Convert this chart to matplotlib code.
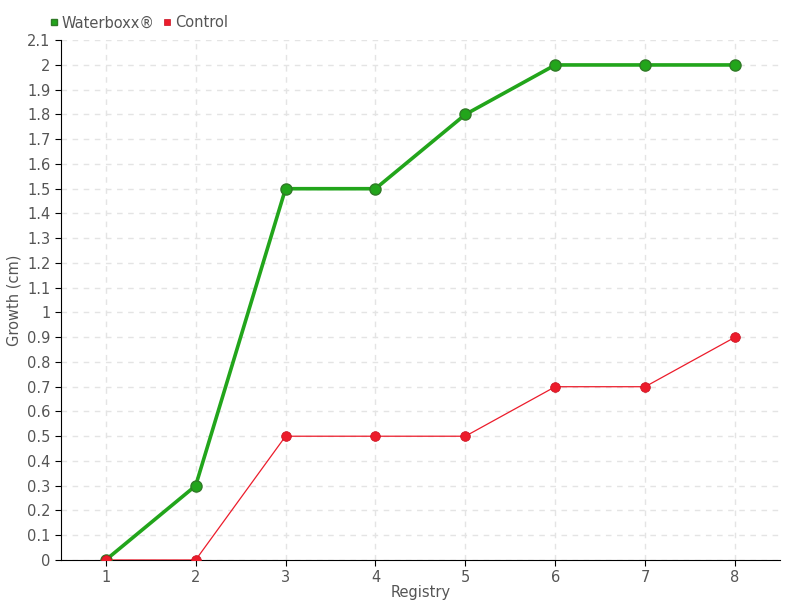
import matplotlib.pyplot as plt
from matplotlib import font_manager

registry = [1, 2, 3, 4, 5, 6, 7, 8]
waterboxx = [0, 0.3, 1.5, 1.5, 1.8, 2.0, 2.0, 2.0]
control = [0, 0, 0.5, 0.5, 0.5, 0.7, 0.7, 0.9]
yticks = [round(i * 0.1, 1) for i in range(22)]
ylabels = ["%g" % v for v in yticks]

names = {f.name for f in font_manager.fontManager.ttflist}
font = "Liberation Sans Narrow" if "Liberation Sans Narrow" in names else "DejaVu Sans"
plt.rcParams["font.family"] = [font, "DejaVu Sans"]

fig = plt.figure(figsize=(8, 6), dpi=100)
ax = fig.add_axes([0.076, 0.0667, 0.899, 0.8663])

green = "#22a51b"
red = "#ec1c2b"
ax.plot(registry, waterboxx, color=green, lw=2.6, marker="o", ms=8,
        mfc=green, mec="#2f7a26", mew=1, zorder=3, label="Waterboxx®")
ax.plot(registry, control, color=red, lw=0.9, marker="o", ms=7,
        mfc=red, mec="#c81020", mew=0.5, zorder=4, label="Control")

ax.set_xlim(0.5, 8.5)
ax.set_ylim(0, 2.1)
ax.set_xticks(registry)
ax.set_yticks(yticks)
ax.set_yticklabels(ylabels)
ax.grid(True, color="#e4e4e4", linestyle=(0, (4, 4)), lw=1)
ax.set_axisbelow(True)
for s in ["top", "right"]:
    ax.spines[s].set_visible(False)
ax.spines["left"].set_color("black")
ax.spines["bottom"].set_color("black")
ax.tick_params(colors="black", labelcolor="#555555", labelsize=10.5, length=4)
ax.set_xlabel("Registry", color="#555555", fontsize=10.5, labelpad=0)
ax.set_ylabel("Growth (cm)", color="#555555", fontsize=10.5, labelpad=4)

ax.legend(loc="lower left", bbox_to_anchor=(-0.025, 1.005), ncol=2, frameon=False,
          fontsize=10.5, handlelength=0.5, handletextpad=0.3, columnspacing=0.6,
          markerscale=0.6, labelcolor="#555555", borderaxespad=0.1)
leg = ax.get_legend()
for h in leg.legend_handles:
    h.set_marker("s")
    h.set_linestyle("none")

fig.savefig("out.png")
